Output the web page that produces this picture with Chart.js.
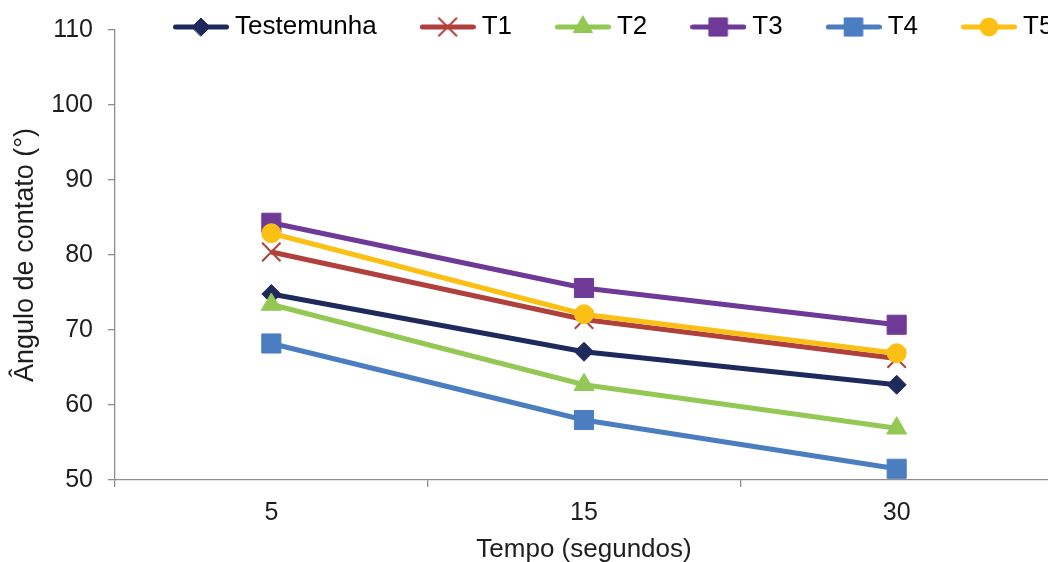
<!DOCTYPE html>
<html>
<head>
<meta charset="utf-8">
<script src="https://cdn.jsdelivr.net/npm/chart.js@4/dist/chart.umd.min.js"></script>
<style>
  html, body { margin: 0; padding: 0; background: #fff; }
  #wrap { width: 1048px; height: 562px; overflow: hidden; position: relative; }
  #chart { position: absolute; left: 0; top: 0; }
</style>
</head>
<body>
<div id="wrap"><canvas id="chart" width="1100" height="580"></canvas></div>
<script>
(function () {
    'use strict';

    // tempo (segundos)
    var categories = ['5', '15', '30'];

    // ângulo de contato (°)
    var testemunha = [74.8, 67.1, 62.7];
    var t1 = [80.4, 71.4, 66.2];
    var t2 = [73.4, 62.7, 56.9];
    var t3 = [84.3, 75.6, 70.7];
    var t4 = [68.2, 58.0, 51.5];
    var t5 = [82.9, 72.1, 66.9];

    var yMin = 50, yMax = 110, yStep = 10;

    Chart.defaults.font.family = '"Liberation Sans", Arial, sans-serif';
    Chart.defaults.color = '#1e1e1e';

    var axisGray = '#8e8e8e';

    function series(label, data, color, style, radius, fill) {
        return {
            label: label,
            data: data,
            borderColor: color,
            backgroundColor: color,
            borderWidth: 5,
            pointStyle: style,
            pointRadius: radius,
            pointHoverRadius: radius,
            pointBackgroundColor: fill ? color : 'rgba(0,0,0,0)',
            pointBorderColor: color,
            pointBorderWidth: fill ? 1 : 2,
            tension: 0
        };
    }

    var datasets = [
        series('Testemunha', testemunha, '#1f2a5c', 'rectRot', 9.5, true),
        series('T1', t1, '#b0403c', 'crossRot', 13, false),
        series('T2', t2, '#92c853', 'triangle', 11.5, true),
        series('T3', t3, '#6f3a97', 'rect', 13.5, true),
        series('T4', t4, '#4a7ec0', 'rect', 13.5, true),
        series('T5', t5, '#fcbf13', 'circle', 9.5, true)
    ];
    // later series on top, like the original
    datasets.forEach(function (ds, i) { ds.order = datasets.length - i; });

    // legend glyph: short line with the marker in the middle
    function legendIcon(ds) {
        var c = document.createElement('canvas');
        c.width = 56;
        c.height = 28;
        var g = c.getContext('2d');
        g.strokeStyle = ds.borderColor;
        g.lineWidth = 5;
        g.lineCap = 'round';
        g.beginPath();
        g.moveTo(2.5, 14);
        g.lineTo(53.5, 14);
        g.stroke();
        g.fillStyle = ds.pointBackgroundColor;
        g.strokeStyle = ds.pointBorderColor;
        g.lineWidth = ds.pointBorderWidth;
        Chart.helpers.drawPoint(g, {
            pointStyle: ds.pointStyle,
            radius: ds.pointRadius * 0.95,
            borderWidth: ds.pointBorderWidth,
            rotation: 0
        }, 28, 14);
        return c;
    }

    // the legend sits over the top of the plot, as in the original
    var legendPlace = {
        id: 'legendPlace',
        afterLayout: function (chart) {
            var lg = chart.legend;
            if (!lg) { return; }
            lg.left = 130;
            lg.right = 3000;
            lg.top = -36;
            lg.bottom = 80;
        }
    };

    new Chart(document.getElementById('chart').getContext('2d'), {
        type: 'line',
        data: { labels: categories, datasets: datasets },
        plugins: [legendPlace],
        options: {
            responsive: false,
            animation: false,
            layout: { padding: { left: 0, right: 47, top: 0, bottom: 0 } },
            plugins: {
                tooltip: { enabled: false },
                legend: {
                    position: 'top',
                    align: 'start',
                    maxHeight: 30,
                    labels: {
                        usePointStyle: true,
                        pointStyleWidth: 42,
                        padding: 50,
                        font: { size: 26 },
                        color: '#1e1e1e',
                        generateLabels: function (chart) {
                            return chart.data.datasets.map(function (ds, i) {
                                return {
                                    text: ds.label,
                                    pointStyle: legendIcon(ds),
                                    fillStyle: ds.borderColor,
                                    strokeStyle: ds.borderColor,
                                    lineWidth: 0,
                                    hidden: false,
                                    datasetIndex: i
                                };
                            });
                        }
                    }
                }
            },
            scales: {
                x: {
                    offset: true,
                    afterFit: function (s) { s.height = 100; },
                    grid: {
                        offset: true,
                        drawOnChartArea: false,
                        drawTicks: true,
                        tickLength: 7,
                        color: axisGray,
                        lineWidth: 1.3
                    },
                    border: { display: true, color: axisGray, width: 1.3 },
                    ticks: { font: { size: 25 }, padding: 11, color: '#1e1e1e' },
                    title: {
                        display: true,
                        text: 'Tempo (segundos)',
                        font: { size: 26 },
                        color: '#1e1e1e',
                        padding: { top: 0, bottom: 15 }
                    }
                },
                y: {
                    min: yMin,
                    max: yMax,
                    afterFit: function (s) { s.width = 115; },
                    grid: {
                        drawOnChartArea: false,
                        drawTicks: true,
                        tickLength: 7,
                        color: axisGray,
                        lineWidth: 1.3
                    },
                    border: { display: true, color: axisGray, width: 1.3 },
                    ticks: { stepSize: yStep, font: { size: 25 }, padding: 15, color: '#1e1e1e' },
                    title: {
                        display: true,
                        text: 'Ângulo de contato (°)',
                        font: { size: 27 },
                        color: '#1e1e1e',
                        padding: { top: 9, bottom: 0 }
                    }
                }
            }
        }
    });
})();
</script>
</body>
</html>
